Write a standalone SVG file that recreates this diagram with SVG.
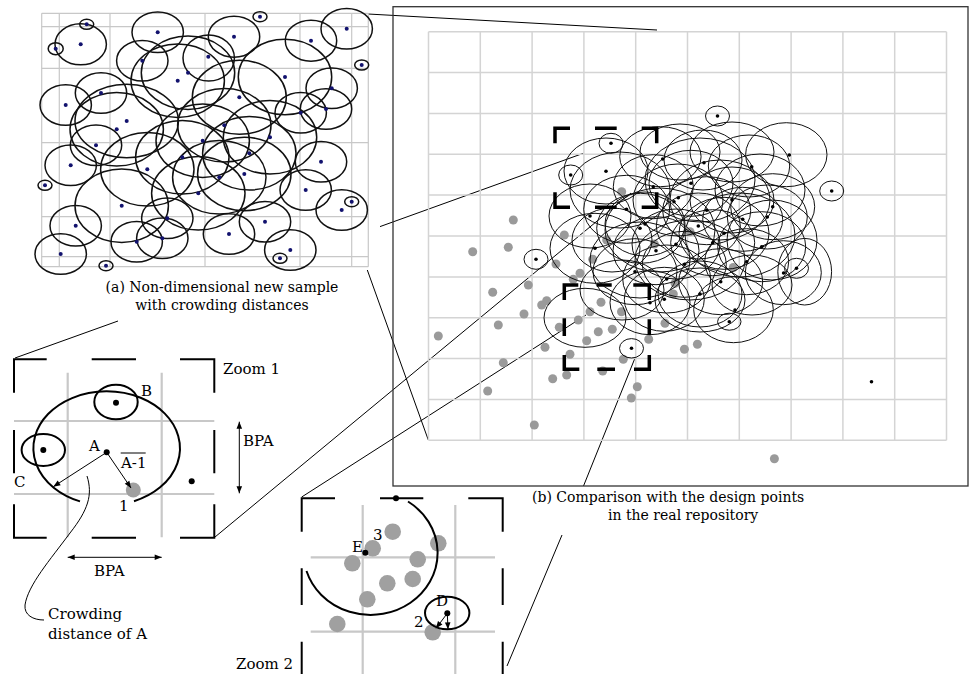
<svg xmlns="http://www.w3.org/2000/svg" width="973" height="674" viewBox="0 0 973 674">
<defs>
<style>
.gl{stroke:#c8c8c8;stroke-width:1.2;fill:none}
.gr{stroke:#d4d4d4;stroke-width:1.5;fill:none}
.gz{stroke:#c8c8c8;stroke-width:2.2;fill:none}
.ca{stroke:#111;stroke-width:1.5;fill:none}
.cb{stroke:#111;stroke-width:1;fill:none}
.cz{stroke:#000;stroke-width:2;fill:none}
.nd{fill:#12126e}
.kd{fill:#000}
.gd{fill:#9a9a9a}
.gz2{fill:#a0a0a0}
.ln{stroke:#000;stroke-width:1;fill:none}
.br{stroke:#000;stroke-width:3.5;fill:none}
.bz{stroke:#000;stroke-width:2;fill:none}
.fr{stroke:#333;stroke-width:1.3;fill:none}
.ar{stroke:#000;stroke-width:1;fill:none}
text{font-family:"DejaVu Serif","Liberation Serif",serif;fill:#000}
.cap{font-size:14px}
.lb{font-size:15px}
</style>
<marker id="ah" viewBox="0 0 10 10" refX="10" refY="5" markerWidth="8" markerHeight="7" orient="auto-start-reverse" markerUnits="userSpaceOnUse"><path d="M0,1 L10,5 L0,9 z" fill="#000"/></marker>
</defs>
<rect width="973" height="674" fill="#fff"/>

<g id="connectors">
<path class="ln" d="M368,14 L657,30"/>
<path class="ln" d="M15,358 L118,321 M380,226.6 L583.3,153.3"/>
<path class="ln" d="M367.3,270 L428.3,440"/>
<path class="ln" d="M215,537 L631,193"/>
<path class="ln" d="M301.7,497 L586,315"/>
<path class="ln" d="M507,666 L562,535 M583.5,486 L635,358"/>
</g>

<g id="panel-a">
<g class="gl">
<path d="M41.7,13.3V266.7M59.3,13.3V266.7M110,13.3V266.7M205,13.3V266.7M300,13.3V266.7M351.7,13.3V266.7M368.3,13.3V266.7"/>
<path d="M41.7,13.3H368.3M41.7,26.7H368.3M41.7,68.3H368.3M41.7,142.7H368.3M41.7,216.7H368.3M41.7,256.7H368.3M41.7,266.7H368.3"/>
</g>
<g class="ca">
<ellipse cx="80.7" cy="44.3" rx="25.7" ry="20.5"/>
<ellipse cx="86.7" cy="24.3" rx="7" ry="5"/>
<ellipse cx="55.7" cy="48.7" rx="7.5" ry="6"/>
<ellipse cx="157.7" cy="32.3" rx="25.7" ry="20.3"/>
<ellipse cx="260" cy="16.7" rx="7" ry="5"/>
<ellipse cx="234" cy="36.7" rx="25.7" ry="20.5"/>
<ellipse cx="311" cy="40.7" rx="25.7" ry="20.5"/>
<ellipse cx="346.7" cy="28.7" rx="25.7" ry="20.3"/>
<ellipse cx="361.7" cy="65" rx="7" ry="5"/>
<ellipse cx="142.3" cy="60.7" rx="25.7" ry="20.3"/>
<ellipse cx="208.7" cy="58" rx="25.7" ry="23"/>
<ellipse cx="177.7" cy="80.7" rx="46.7" ry="36.7"/>
<ellipse cx="188" cy="72.7" rx="46.7" ry="36.7"/>
<ellipse cx="285" cy="77" rx="46.7" ry="37.7"/>
<ellipse cx="239.3" cy="97.3" rx="47" ry="37"/>
<ellipse cx="331.7" cy="88.3" rx="25.7" ry="20.3"/>
<ellipse cx="326" cy="109" rx="25.7" ry="20.3"/>
<ellipse cx="300.7" cy="112.7" rx="25.7" ry="20.3"/>
<ellipse cx="65.7" cy="105" rx="25.7" ry="20.3"/>
<ellipse cx="101" cy="93" rx="25.7" ry="20.3"/>
<ellipse cx="126.7" cy="121" rx="51.7" ry="36.7"/>
<ellipse cx="116.7" cy="129.3" rx="46.7" ry="36.7"/>
<ellipse cx="96" cy="145.3" rx="25.7" ry="20.3"/>
<ellipse cx="70.7" cy="165.3" rx="25.7" ry="20.3"/>
<ellipse cx="224.3" cy="125.3" rx="46.7" ry="36.7"/>
<ellipse cx="270" cy="137.3" rx="46.7" ry="36.7"/>
<ellipse cx="202.7" cy="140.7" rx="46.7" ry="36.7"/>
<ellipse cx="182.3" cy="157.3" rx="46.7" ry="36.7"/>
<ellipse cx="147.3" cy="169.3" rx="46.7" ry="36.7"/>
<ellipse cx="249.3" cy="153.3" rx="46.7" ry="36.7"/>
<ellipse cx="244.3" cy="174" rx="46.7" ry="36.7"/>
<ellipse cx="219.3" cy="177.3" rx="46.7" ry="36.7"/>
<ellipse cx="198.3" cy="193.3" rx="46.7" ry="36.7"/>
<ellipse cx="321" cy="161.7" rx="25.7" ry="20.3"/>
<ellipse cx="305.7" cy="190" rx="25.7" ry="20.3"/>
<ellipse cx="45" cy="185.3" rx="7" ry="5"/>
<ellipse cx="121.7" cy="205.7" rx="46.7" ry="36.7"/>
<ellipse cx="75.7" cy="225.7" rx="25.7" ry="20.3"/>
<ellipse cx="60.7" cy="254" rx="25.7" ry="20.3"/>
<ellipse cx="167.3" cy="218.3" rx="25.7" ry="20.3"/>
<ellipse cx="162.3" cy="238.3" rx="25.7" ry="20.3"/>
<ellipse cx="136.7" cy="241.7" rx="25.7" ry="20.3"/>
<ellipse cx="229" cy="234" rx="25.7" ry="20.3"/>
<ellipse cx="265" cy="221.7" rx="25.7" ry="20.3"/>
<ellipse cx="290.3" cy="250" rx="25.7" ry="20.3"/>
<ellipse cx="280" cy="258.3" rx="7" ry="5"/>
<ellipse cx="341.7" cy="210" rx="25.7" ry="20.3"/>
<ellipse cx="351.7" cy="201.7" rx="7" ry="5"/>
<ellipse cx="106" cy="265.7" rx="7" ry="5"/>
</g>
<g class="nd">
<circle cx="80.7" cy="44.3" r="2"/><circle cx="86.7" cy="24.3" r="2"/><circle cx="55.7" cy="48.7" r="2"/>
<circle cx="157.7" cy="32.3" r="2"/><circle cx="260" cy="16.7" r="2"/><circle cx="234" cy="36.7" r="2"/>
<circle cx="311" cy="40.7" r="2"/><circle cx="346.7" cy="28.7" r="2"/><circle cx="361.7" cy="65" r="2"/>
<circle cx="142.3" cy="60.7" r="2"/><circle cx="208.3" cy="56.7" r="2"/><circle cx="177.7" cy="80.7" r="2"/>
<circle cx="188" cy="72.7" r="2"/><circle cx="285" cy="77" r="2"/><circle cx="239.3" cy="97.3" r="2"/>
<circle cx="331.7" cy="88.3" r="2"/><circle cx="326" cy="109" r="2"/><circle cx="300.7" cy="112.7" r="2"/>
<circle cx="65.7" cy="105" r="2"/><circle cx="101" cy="93" r="2"/><circle cx="126.7" cy="121" r="2"/>
<circle cx="116.7" cy="129.3" r="2"/><circle cx="96" cy="145.3" r="2"/><circle cx="70.7" cy="165.3" r="2"/>
<circle cx="224.3" cy="125.3" r="2"/><circle cx="270" cy="137.3" r="2"/><circle cx="202.7" cy="140.7" r="2"/>
<circle cx="182.3" cy="157.3" r="2"/><circle cx="147.3" cy="169.3" r="2"/><circle cx="249.3" cy="153.3" r="2"/>
<circle cx="244.3" cy="174" r="2"/><circle cx="219.3" cy="177.3" r="2"/><circle cx="198.3" cy="193.3" r="2"/>
<circle cx="321" cy="161.7" r="2"/><circle cx="305.7" cy="190" r="2"/><circle cx="45" cy="185.3" r="2"/>
<circle cx="121.7" cy="205.7" r="2"/><circle cx="75.7" cy="225.7" r="2"/><circle cx="60.7" cy="254" r="2"/>
<circle cx="167.3" cy="218.3" r="2"/><circle cx="162.3" cy="238.3" r="2"/><circle cx="136.7" cy="241.7" r="2"/>
<circle cx="229" cy="234" r="2"/><circle cx="265" cy="221.7" r="2"/><circle cx="290.3" cy="250" r="2"/>
<circle cx="280" cy="258.3" r="2"/><circle cx="341.7" cy="210" r="2"/><circle cx="351.7" cy="201.7" r="2"/>
<circle cx="106" cy="265.7" r="2"/>
</g>
<text class="cap" x="222" y="292" text-anchor="middle">(a) Non-dimensional new sample</text>
<text class="cap" x="222" y="310" text-anchor="middle">with crowding distances</text>
</g>

<g id="panel-b">
<rect class="fr" x="393" y="6.7" width="575" height="479.3"/>
<g class="gr">
<path d="M428.5,31.7V440.3M480.3,31.7V440.3M532.1,31.7V440.3M583.9,31.7V440.3M635.7,31.7V440.3M687.5,31.7V440.3M739.3,31.7V440.3M791.1,31.7V440.3M842.9,31.7V440.3M894.7,31.7V440.3M946.5,31.7V440.3"/>
<path d="M428.5,31.7H946.5M428.5,72.6H946.5M428.5,113.4H946.5M428.5,154.3H946.5M428.5,195.1H946.5M428.5,236H946.5M428.5,276.9H946.5M428.5,317.7H946.5M428.5,358.6H946.5M428.5,399.4H946.5M428.5,440.3H946.5"/>
</g>
<g class="gd">
<circle cx="513.3" cy="220" r="4.5"/><circle cx="472.7" cy="251.7" r="4.5"/><circle cx="508.3" cy="247.3" r="4.5"/>
<circle cx="556" cy="264" r="4.5"/><circle cx="564.3" cy="235" r="4.5"/><circle cx="580" cy="273.3" r="4.5"/>
<circle cx="592.7" cy="259.3" r="4.5"/><circle cx="606.7" cy="240" r="4.5"/><circle cx="621.7" cy="191.7" r="4.5"/>
<circle cx="492.7" cy="292.3" r="4.5"/><circle cx="528.3" cy="285" r="4.5"/><circle cx="438.3" cy="336" r="4.5"/>
<circle cx="498.3" cy="325" r="4.5"/><circle cx="524" cy="314" r="4.5"/><circle cx="541.7" cy="305" r="4.5"/>
<circle cx="546.7" cy="300.7" r="4.5"/><circle cx="559.3" cy="327.3" r="4.5"/><circle cx="545" cy="347.3" r="4.5"/>
<circle cx="503.3" cy="362.7" r="4.5"/><circle cx="487.7" cy="391" r="4.5"/><circle cx="552.7" cy="378.7" r="4.5"/>
<circle cx="566.7" cy="375" r="4.5"/><circle cx="570" cy="354.3" r="4.5"/><circle cx="586.7" cy="340.7" r="4.5"/>
<circle cx="598.3" cy="331.7" r="4.5"/><circle cx="612.3" cy="329.3" r="4.5"/><circle cx="601" cy="302.3" r="4.5"/>
<circle cx="590" cy="311.7" r="4.5"/><circle cx="578.3" cy="320" r="4.5"/><circle cx="534.3" cy="425" r="4.5"/>
<circle cx="637.3" cy="386.7" r="4.5"/><circle cx="631.3" cy="398" r="4.5"/><circle cx="602.7" cy="371" r="4.5"/>
<circle cx="623.3" cy="359.3" r="4.5"/><circle cx="648.7" cy="339.3" r="4.5"/><circle cx="665" cy="323.3" r="4.5"/>
<circle cx="673.3" cy="294" r="4.5"/><circle cx="573.3" cy="279.3" r="4.5"/><circle cx="774.4" cy="458.7" r="4.5"/>
<circle cx="697.4" cy="344.3" r="4.5"/><circle cx="684.4" cy="349.3" r="4.5"/><circle cx="654.3" cy="244" r="4.5"/>
<circle cx="690" cy="231.7" r="4.5"/><circle cx="733.3" cy="267.5" r="4.5"/><circle cx="675" cy="283.3" r="4.5"/>
<circle cx="621.5" cy="311.7" r="4.5"/>
</g>
<g class="cb">
<ellipse cx="611" cy="143.3" rx="12" ry="10"/>
<ellipse cx="570.7" cy="175" rx="12" ry="10"/>
<ellipse cx="717.5" cy="116" rx="12" ry="10"/>
<ellipse cx="831.7" cy="191" rx="12" ry="10"/>
<ellipse cx="536" cy="259.3" rx="12" ry="10"/>
<ellipse cx="796.5" cy="268.3" rx="12" ry="10"/>
<ellipse cx="729.3" cy="321.7" rx="11.7" ry="8.5"/>
<ellipse cx="631.5" cy="348.3" rx="12" ry="9.7"/>
<ellipse cx="786.3" cy="154.7" rx="40.7" ry="32"/>
<ellipse cx="703" cy="160" rx="39" ry="30"/>
<ellipse cx="660.4" cy="156.7" rx="40.7" ry="30"/>
<ellipse cx="749" cy="166" rx="40.7" ry="31"/>
<ellipse cx="606" cy="171" rx="42" ry="33"/>
<ellipse cx="691" cy="183.3" rx="42" ry="33"/>
<ellipse cx="653.3" cy="186.7" rx="40" ry="32"/>
<ellipse cx="678" cy="200" rx="45" ry="36"/>
<ellipse cx="732" cy="200" rx="42" ry="33"/>
<ellipse cx="772.7" cy="206.7" rx="42" ry="33"/>
<ellipse cx="706.7" cy="210.7" rx="44" ry="34"/>
<ellipse cx="742.7" cy="219.3" rx="40" ry="32"/>
<ellipse cx="767.3" cy="217" rx="40" ry="32"/>
<ellipse cx="590" cy="216" rx="41" ry="32"/>
<ellipse cx="626.7" cy="209.3" rx="43" ry="34"/>
<ellipse cx="640.7" cy="228.3" rx="44" ry="35"/>
<ellipse cx="645" cy="224" rx="40" ry="32"/>
<ellipse cx="698.3" cy="226" rx="42" ry="33"/>
<ellipse cx="724" cy="233.3" rx="45" ry="36"/>
<ellipse cx="676" cy="244" rx="44" ry="35"/>
<ellipse cx="712.7" cy="242.7" rx="42" ry="33"/>
<ellipse cx="595" cy="248.3" rx="45" ry="35"/>
<ellipse cx="656" cy="250.7" rx="43" ry="34"/>
<ellipse cx="684.3" cy="264.3" rx="42" ry="33"/>
<ellipse cx="746.7" cy="261.7" rx="42" ry="33"/>
<ellipse cx="761.7" cy="246.7" rx="44" ry="35"/>
<ellipse cx="783.3" cy="272.7" rx="38" ry="32"/>
<ellipse cx="804.7" cy="271.7" rx="26.9" ry="33.3"/>
<ellipse cx="635" cy="271.7" rx="42" ry="33"/>
<ellipse cx="720.7" cy="281.7" rx="42" ry="33"/>
<ellipse cx="666.7" cy="279" rx="44" ry="34"/>
<ellipse cx="664.3" cy="299.3" rx="40" ry="32"/>
<ellipse cx="700" cy="294" rx="42" ry="33"/>
<ellipse cx="650" cy="302.7" rx="40" ry="32"/>
<ellipse cx="733.5" cy="309.7" rx="39.8" ry="33"/>
<ellipse cx="585" cy="317.8" rx="41" ry="29.5"/>
<ellipse cx="620" cy="190" rx="50" ry="38"/>
<ellipse cx="700" cy="180" rx="55" ry="42"/>
<ellipse cx="740" cy="235" rx="55" ry="42"/>
<ellipse cx="660" cy="230" rx="55" ry="42"/>
<ellipse cx="690" cy="260" rx="55" ry="40"/>
<ellipse cx="720" cy="200" rx="50" ry="40"/>
<ellipse cx="760" cy="190" rx="45" ry="36"/>
<ellipse cx="640" cy="260" rx="50" ry="38"/>
<ellipse cx="700" cy="300" rx="45" ry="32"/>
<ellipse cx="612" cy="240" rx="40" ry="32"/>
<ellipse cx="752" cy="285" rx="40" ry="30"/>
<ellipse cx="680" cy="152" rx="40" ry="28"/>
<ellipse cx="732" cy="152" rx="42" ry="30"/>
<ellipse cx="622" cy="290" rx="42" ry="30"/>
<ellipse cx="772" cy="240" rx="45" ry="40"/>
</g>
<g class="kd">
<circle cx="611" cy="143.3" r="1.8"/><circle cx="570.7" cy="175" r="1.8"/><circle cx="717.5" cy="116" r="1.8"/>
<circle cx="831.7" cy="191" r="1.8"/><circle cx="536" cy="259.3" r="1.8"/><circle cx="796.5" cy="268.3" r="1.8"/>
<circle cx="729.3" cy="321.7" r="1.8"/><circle cx="631.5" cy="348.3" r="1.8"/><circle cx="871.5" cy="381.7" r="1.8"/>
<circle cx="789.3" cy="155" r="1.8"/><circle cx="704" cy="162.7" r="1.8"/><circle cx="662.7" cy="159" r="1.8"/>
<circle cx="751.7" cy="166.7" r="1.8"/><circle cx="606" cy="171.3" r="1.8"/><circle cx="691" cy="183.3" r="1.8"/>
<circle cx="653.3" cy="186.7" r="1.8"/><circle cx="678.3" cy="197.8" r="1.8"/><circle cx="674" cy="201.7" r="1.8"/>
<circle cx="732" cy="199.7" r="1.8"/><circle cx="772.7" cy="206.7" r="1.8"/><circle cx="706.7" cy="210.3" r="1.8"/>
<circle cx="742.7" cy="219.3" r="1.8"/><circle cx="767.3" cy="217" r="1.8"/><circle cx="590" cy="216" r="1.8"/>
<circle cx="626.5" cy="209.3" r="1.8"/><circle cx="640" cy="228.3" r="1.8"/><circle cx="645" cy="224" r="1.8"/>
<circle cx="698.3" cy="226" r="1.8"/><circle cx="724" cy="233.3" r="1.8"/><circle cx="676" cy="244.2" r="1.8"/>
<circle cx="712.7" cy="242.7" r="1.8"/><circle cx="595" cy="248.3" r="1.8"/><circle cx="656" cy="250.7" r="1.8"/>
<circle cx="684.6" cy="264.2" r="1.8"/><circle cx="746.7" cy="261.7" r="1.8"/><circle cx="761.7" cy="246.7" r="1.8"/>
<circle cx="783.6" cy="273" r="1.8"/><circle cx="635" cy="271.7" r="1.8"/><circle cx="720.7" cy="281.7" r="1.8"/>
<circle cx="666.7" cy="279" r="1.8"/><circle cx="664.3" cy="299.3" r="1.8"/><circle cx="700" cy="294" r="1.8"/>
<circle cx="650" cy="302.7" r="1.8"/><circle cx="735" cy="310" r="1.8"/>
</g>
<g class="br">
<path d="M555,143.3V128.3H570M595,128.3H616.7M641.7,128.3H656.7V143.3M555,192.3V207.3H570M595,207.3H616.7M641.7,207.3H656.7V192.3"/>
<path d="M564.3,300V285H578.3M596.7,285H611.7M633.3,285H649.3V300M564.3,318.3V336M649.3,319.3V335M564.3,355V369.3H579.3M597.3,369.3H615M634,369.3H649.3V355"/>
</g>
<text class="cap" x="532" y="502">(b) Comparison with the design points</text>
<text class="cap" x="608" y="520">in the real repository</text>
</g>

<g id="zoom1">
<g class="gz">
<path d="M67.7,372.7V537.3M161.7,372.7V537.3M14,421H214.3M14,494H214.3"/>
</g>
<path class="bz" d="M14,392.7V359.3H46.7M91.7,359.3H136M180,359.3H214.3V392.7M14,430V473.3M214.3,430V473.3M14,504.3V537.7H46.7M91.7,537.7H136M180,537.7H214.3V504.3"/>
<path class="cz" d="M80,501.4 A73.3,57 0 1 1 134,501.2"/>
<ellipse class="cz" cx="116" cy="402" rx="21.7" ry="17.2"/>
<ellipse class="cz" cx="43.3" cy="450" rx="21.7" ry="16"/>
<circle class="gz2" cx="133.3" cy="490" r="7.5"/>
<circle class="kd" cx="116" cy="402.7" r="3"/>
<circle class="kd" cx="43.3" cy="450" r="3"/>
<circle class="kd" cx="106.7" cy="452.3" r="3"/>
<circle class="kd" cx="191.7" cy="481.3" r="3"/>
<path class="ar" d="M106.7,452.3L53.3,486.7" marker-end="url(#ah)"/>
<path class="ar" d="M106.7,452.3L131,488" marker-end="url(#ah)"/>
<path class="ar" d="M239.3,421.7V493.3" marker-start="url(#ah)" marker-end="url(#ah)"/>
<path class="ar" d="M67.7,557.3H161.7" marker-start="url(#ah)" marker-end="url(#ah)"/>
<path class="ar" d="M87,476 C93,495 88,510 70,533 C50,560 28,585 25,605 C24,615 33,620 44,620"/>
<text class="lb" x="141" y="396">B</text>
<text class="lb" x="89" y="451">A</text>
<text class="lb" x="121" y="468">A-1</text>
<path class="ar" d="M120.7,453H145.7"/>
<text class="lb" x="14" y="487">C</text>
<text class="lb" x="119" y="511">1</text>
<text class="lb" x="223" y="374">Zoom 1</text>
<text class="lb" x="243" y="446">BPA</text>
<text class="lb" x="94" y="576">BPA</text>
<text class="lb" x="48" y="619">Crowding</text>
<text class="lb" x="48" y="639">distance of A</text>
</g>

<g id="zoom2">
<g class="gz">
<path d="M362.7,505V674M455.3,505V674M310.7,557.3H495M310.7,631.7H495"/>
</g>
<path class="bz" d="M301.7,531.7V498.3H335M380,498.3H423.3M468.3,498.3H502.7V531.7M301.7,568.3V605M502.7,568.3V605M301.7,641.7V674M502.7,641.7V674"/>
<g class="gz2">
<circle cx="392.7" cy="531.7" r="8.3"/><circle cx="372.7" cy="548.3" r="8.3"/><circle cx="438.3" cy="543.3" r="8.3"/>
<circle cx="352.3" cy="563.3" r="8.3"/><circle cx="417.7" cy="559.3" r="8.3"/><circle cx="387.3" cy="583.3" r="8.3"/>
<circle cx="412.7" cy="579" r="8.3"/><circle cx="367.3" cy="599.3" r="8.3"/><circle cx="337.3" cy="624" r="8.3"/>
<circle cx="432.7" cy="632.3" r="8.3"/>
</g>
<path class="cz" d="M306.5,571 A67,62 0 1 0 408,501.5"/>
<ellipse class="cz" cx="447.2" cy="613" rx="22.2" ry="16.3"/>
<circle class="kd" cx="396" cy="498.3" r="3"/>
<circle class="kd" cx="365.3" cy="552.7" r="3"/>
<circle class="kd" cx="447.3" cy="613.3" r="3"/>
<path class="ar" d="M447.3,613.3L436,628.3" marker-end="url(#ah)"/>
<path class="ar" d="M447.3,613.3L448,629.3" marker-end="url(#ah)"/>
<text class="lb" x="352" y="552">E</text>
<text class="lb" x="373" y="540">3</text>
<text class="lb" x="436" y="606">D</text>
<text class="lb" x="414" y="627">2</text>
<text class="lb" x="236" y="669">Zoom 2</text>
</g>
</svg>
